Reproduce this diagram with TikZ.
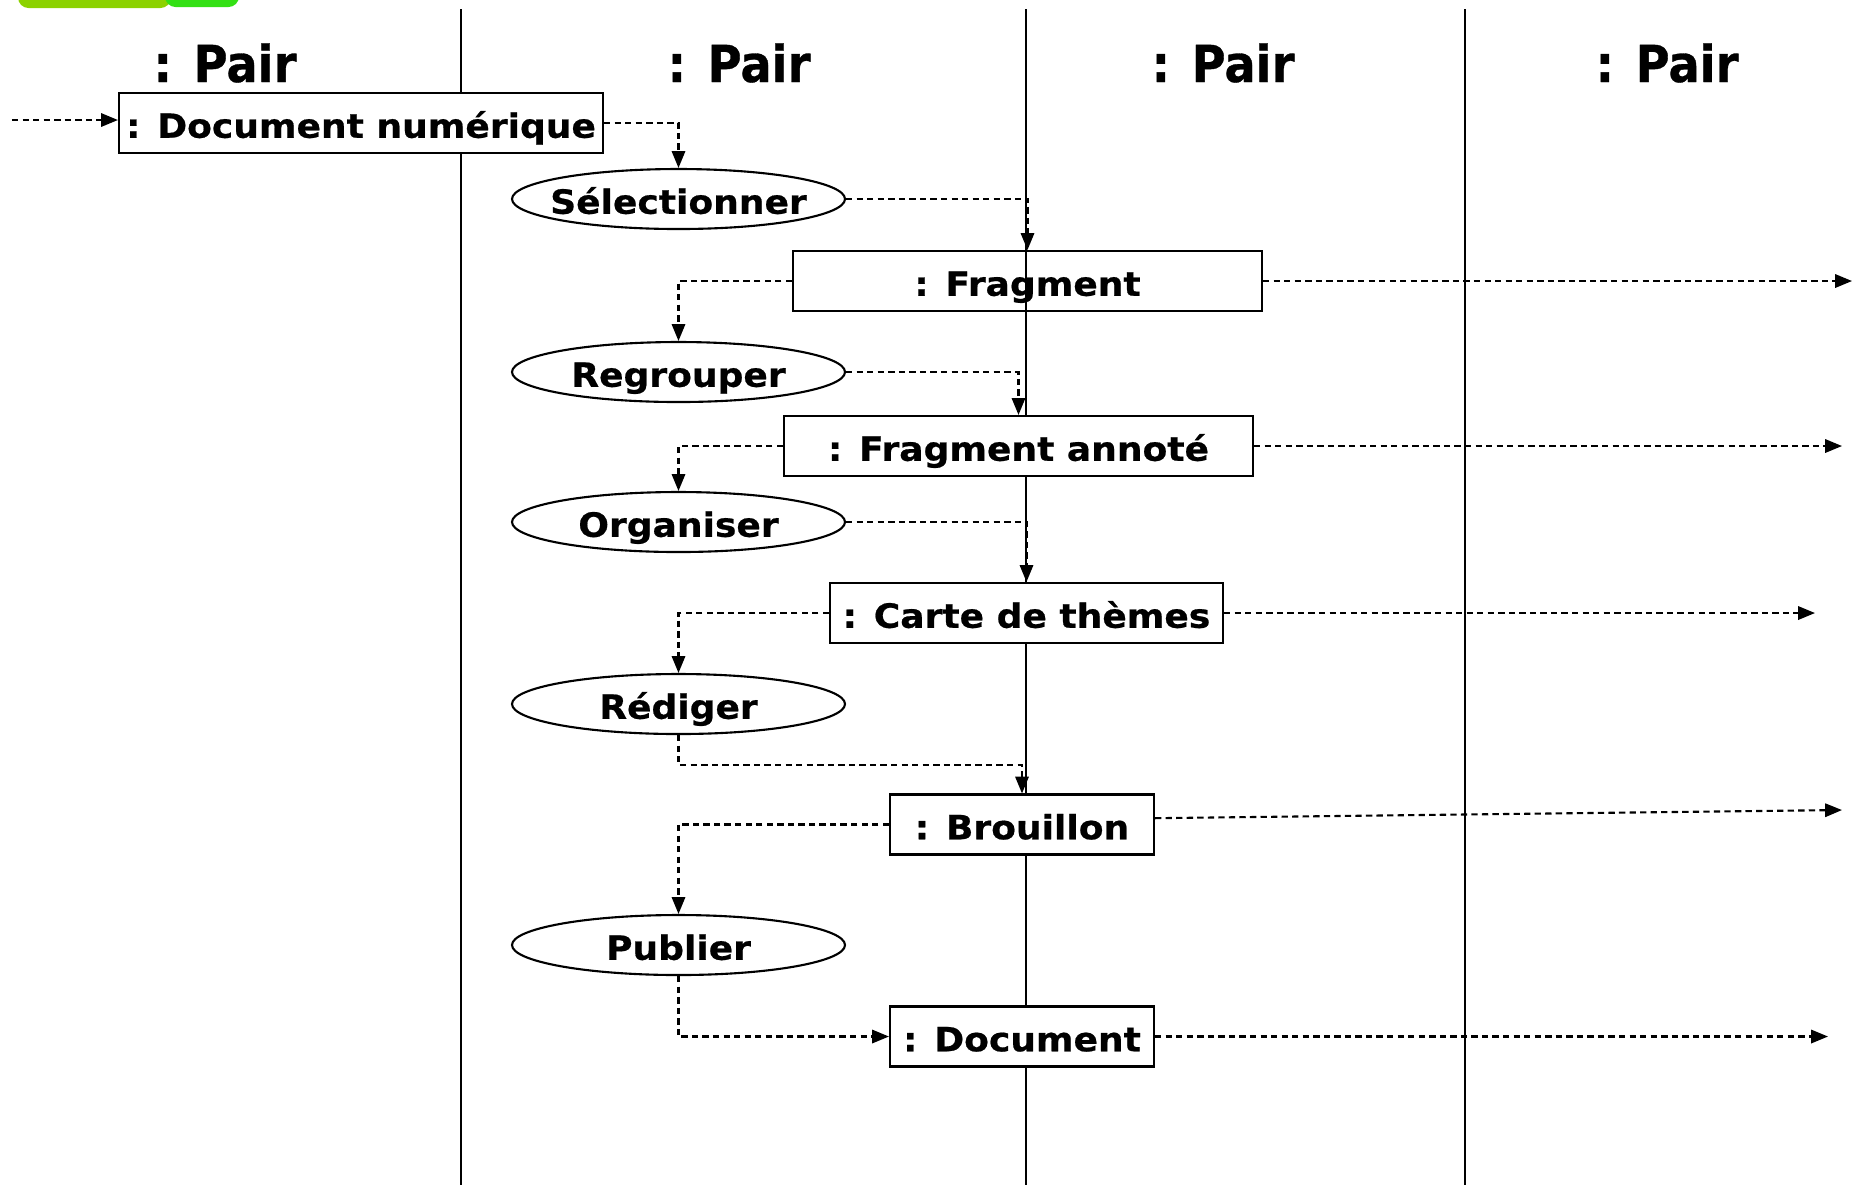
\documentclass[tikz,border=0pt]{standalone}
\usepackage{fontspec}
\setmainfont{DejaVu Sans}
\newfontfamily\boxfont[FakeStretch=1.08,FakeBold=0.6]{DejaVu Sans}
\newfontfamily\titlefont[FakeStretch=0.91,FakeBold=0.6]{DejaVu Sans}
\usepackage{tikz}
\usetikzlibrary{shapes.geometric,arrows.meta}
\definecolor{lime1}{HTML}{8CD200}
\definecolor{lime2}{HTML}{33E014}
\tikzstyle{objbox} = [draw=black, fill=white, line width=0.6pt, rectangle,
    minimum height=0.6cm, inner sep=1pt, font=\boxfont\bfseries\fontsize{9.5}{11}\selectfont,
    text height=1em, text depth=0.16em]
\tikzstyle{actbox} = [draw=black, fill=white, line width=0.6pt, ellipse,
    minimum width=3.33cm, minimum height=0.6cm, inner sep=0pt]
\tikzstyle{acttext} = [font=\boxfont\bfseries\fontsize{9.5}{11}\selectfont,
    text height=1em, text depth=0.16em, inner sep=0pt]
\tikzstyle{pairtitle} = [font=\titlefont\bfseries\fontsize{14.5}{17}\selectfont, anchor=base]
\tikzstyle{lifeline} = [line width=0.6pt]
\tikzstyle{flow} = [line width=0.6pt, dash pattern=on 1.8pt off 1.2pt,
    -{Triangle[length=4.8pt,width=3.8pt]}]

\begin{document}
\begin{tikzpicture}
\useasboundingbox (0,0) rectangle (18.54,-11.85);
% tabs en haut
\fill[lime1, rounded corners=3pt] (0.18,0.2) rectangle (1.71,-0.08);
\fill[lime2, rounded corners=3pt] (1.65,0.2) rectangle (2.39,-0.07);
% couloirs
\draw[lifeline] (4.61,-0.09) -- (4.61,-11.85);
\draw[lifeline] (10.26,-0.09) -- (10.26,-11.85);
\draw[lifeline] (14.65,-0.09) -- (14.65,-11.85);
\node[pairtitle] (p1) at (2.25,-0.82) {: Pair};
\node[pairtitle] (p2) at (7.39,-0.82) {: Pair};
\node[pairtitle] (p3) at (12.23,-0.82) {: Pair};
\node[pairtitle] (p4) at (16.67,-0.82) {: Pair};

% objets
\node[objbox, minimum width=4.84cm] (docnum) at (3.61,-1.23) {: Document numérique};
\node[objbox, minimum width=4.69cm, fill=none] (frag) at (10.275,-2.81) {: Fragment};
\node[objbox, minimum width=4.69cm] (fragann) at (10.185,-4.46) {: Fragment annoté};
\node[objbox, minimum width=3.93cm] (carte) at (10.265,-6.13) {: Carte de thèmes};
\node[objbox, minimum width=2.64cm] (brou) at (10.22,-8.245) {: Brouillon};
\node[objbox, minimum width=2.64cm] (doc) at (10.22,-10.365) {: Document};

% activites
\node[actbox] (sel) at (6.785,-1.99) {};
\node[acttext] at (sel) {Sélectionner};
\node[actbox] (reg) at (6.785,-3.72) {};
\node[acttext] at (reg) {Regrouper};
\node[actbox] (org) at (6.785,-5.22) {};
\node[acttext] at (org) {Organiser};
\node[actbox] (red) at (6.785,-7.04) {};
\node[acttext] at (red) {Rédiger};
\node[actbox] (pub) at (6.785,-9.45) {};
\node[acttext] at (pub) {Publier};

% flux
\coordinate (in) at (0.12,-1.20);
\draw[flow] (in) -- (in -| docnum.west);
\draw[flow] (docnum.east) -| (sel.north);
\draw[flow] (sel.east) -| (frag.north);
\draw[flow] (frag.west) -| (reg.north);
\draw[flow] (reg.east) -| (fragann.north);
\draw[flow] (fragann.west) -| (org.north);
\draw[flow] (org.east) -| (carte.north);
\draw[flow] (carte.west) -| (red.north);
\draw[flow] (red.south) -- ++(0,-0.3) -| (brou.north);
\draw[flow] (brou.west) -| (pub.north);
\draw[flow] (pub.south) |- (doc.west);

% sorties
\coordinate (fragout) at (18.52,-2.81);
\coordinate (fragannout) at (18.42,-4.46);
\coordinate (carteout) at (18.15,-6.13);
\coordinate (brouout) at (18.42,-8.10);
\coordinate (docout) at (18.28,-10.365);
\draw[flow] (frag.east) -- (fragout);
\draw[flow] (fragann.east) -- (fragannout);
\draw[flow] (carte.east) -- (carteout);
\draw[flow] ([yshift=1.8pt]brou.east) -- (brouout);
\draw[flow] (doc.east) -- (docout);
\end{tikzpicture}
\end{document}
